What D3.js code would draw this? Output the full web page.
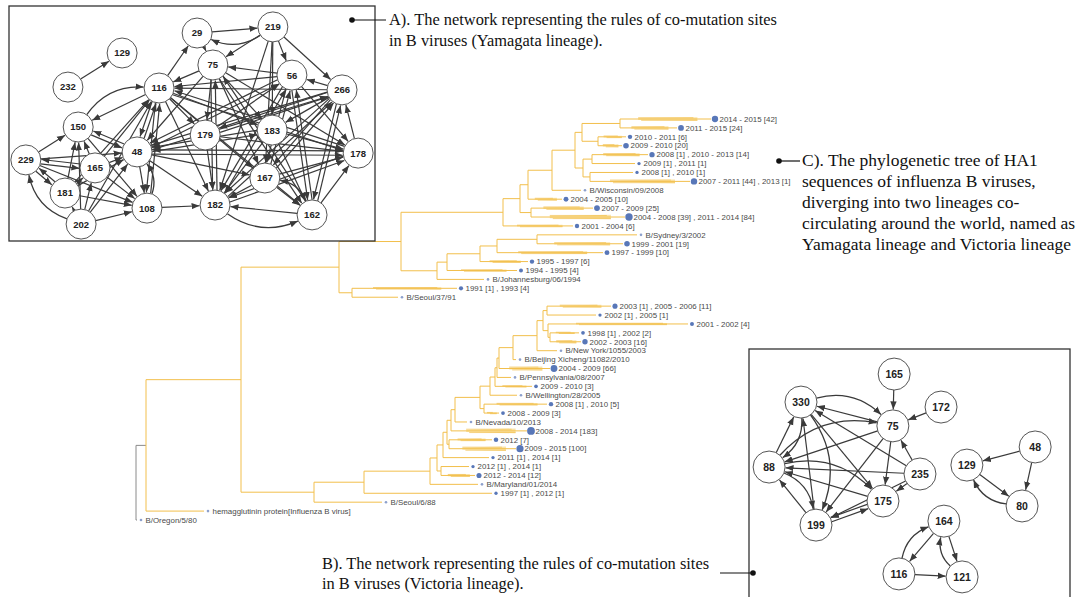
<!DOCTYPE html>
<html><head><meta charset="utf-8">
<script src="https://cdn.jsdelivr.net/npm/d3@7"></script>
<style>html,body{margin:0;padding:0;background:#fff;}svg{display:block}</style>
</head><body>
<svg id="c" width="1080" height="597"></svg>
<script>
// ---------------- DATA ----------------
// Phylogenetic tree: leaves in display order (top to bottom)
const leafLabels = [
 "2014 - 2015 [42]","2011 - 2015 [24]","2010 - 2011 [6]","2009 - 2010 [20]",
 "2008 [1] , 2010 - 2013 [14]","2009 [1] , 2011 [1]","2008 [1] , 2010 [1]",
 "2007 - 2011 [44] , 2013 [1]","B/Wisconsin/09/2008","2004 - 2005 [10]","2007 - 2009 [25]",
 "2004 - 2008 [39] , 2011 - 2014 [84]","2001 - 2004 [6]","B/Sydney/3/2002","1999 - 2001 [19]",
 "1997 - 1999 [10]","1995 - 1997 [6]","1994 - 1995 [4]","B/Johannesburg/06/1994",
 "1991 [1] , 1993 [4]","B/Seoul/37/91",
 "2003 [1] , 2005 - 2006 [11]","2002 [1] , 2005 [1]","2001 - 2002 [4]","1998 [1] , 2002 [2]",
 "2002 - 2003 [16]","B/New York/1055/2003","B/Beijing Xicheng/11082/2010","2004 - 2009 [66]",
 "B/Pennsylvania/08/2007","2009 - 2010 [3]","B/Wellington/28/2005","2008 [1] , 2010 [5]",
 "2008 - 2009 [3]","B/Nevada/10/2013","2008 - 2014 [183]","2012 [7]","2009 - 2015 [100]",
 "2011 [1] , 2014 [1]","2012 [1] , 2014 [1]","2012 - 2014 [12]","B/Maryland/01/2014",
 "1997 [1] , 2012 [1]","B/Seoul/6/88","hemagglutinin protein[Influenza B virus]","B/Oregon/5/80"
];
// [node, parent, branch length]
const treeLinks = [
 ["root","",0],["n1","root",0.010],["B/Oregon/5/80","root",0.001],
 ["hemagglutinin protein[Influenza B virus]","n1",0.058],["n2","n1",0.095],
 ["ny","n2",0.098],["nv","n2",0.073],
 ["B/Seoul/6/88","nv",0.068],["w","nv",0.050],["1997 [1] , 2012 [1]","w",0.128],
 ["va","w",0.066],["B/Maryland/01/2014","va",0.048],["vb","va",0.007],
 ["vy2","vb",0.004],["2012 [1] , 2014 [1]","vy2",0.028],["2012 - 2014 [12]","vy2",0.034],
 ["vc","vb",0.006],["2011 [1] , 2014 [1]","vc",0.046],["vd","vc",0.004],
 ["vf","vd",0.002],["2012 [7]","vf",0.043],["2009 - 2015 [100]","vf",0.067],
 ["ve","vd",0.004],["2008 - 2014 [183]","ve",0.076],["vg","ve",0.004],
 ["B/Nevada/10/2013","vg",0.012],["vh","vg",0.025],["vj","vh",0.004],
 ["2008 [1] , 2010 [5]","vj",0.063],["2008 - 2009 [3]","vj",0.015],["vi","vh",0.010],
 ["B/Wellington/28/2005","vi",0.027],["vk","vi",0.005],["2009 - 2010 [3]","vk",0.037],
 ["vl","vk",0.002],["B/Pennsylvania/08/2007","vl",0.014],["vm","vl",0.002],
 ["2004 - 2009 [66]","vm",0.051],["vn","vm",0.014],["B/Beijing Xicheng/11082/2010","vn",0.003],
 ["vo","vn",0.024],["B/New York/1055/2003","vo",0.020],["vp","vo",0.006],["vq","vp",0.004],
 ["2003 [1] , 2005 - 2006 [11]","vq",0.064],["2002 [1] , 2005 [1]","vq",0.049],
 ["vr","vp",0.005],["2001 - 2002 [4]","vr",0.140],["vs","vr",0.002],
 ["1998 [1] , 2002 [2]","vs",0.029],["2002 - 2003 [16]","vs",0.031],
 ["a2","ny",0.013],["1991 [1] , 1993 [4]","a2",0.105],["B/Seoul/37/91","a2",0.046],
 ["a1","ny",0.062],["b2","a1",0.036],["B/Johannesburg/06/1994","b2",0.047],
 ["c","b2",0.010],["1994 - 1995 [4]","c",0.070],["d","c",0.033],["1995 - 1997 [6]","d",0.048],
 ["e","d",0.017],["1997 - 1999 [10]","e",0.106],["f","e",0.040],
 ["B/Sydney/3/2002","f",0.100],["1999 - 2001 [19]","f",0.086],
 ["b1","a1",0.102],["2001 - 2004 [6]","b1",0.070],["p","b1",0.017],["r","p",0.011],
 ["2007 - 2009 [25]","r",0.062],["2004 - 2008 [39] , 2011 - 2014 [84]","r",0.094],
 ["q","p",0.008],["2004 - 2005 [10]","q",0.034],["m","q",0.024],
 ["B/Wisconsin/09/2008","m",0.029],["nn","m",0.023],["t1","nn",0.007],["u1","t1",0.038],
 ["2014 - 2015 [42]","u1",0.091],["2011 - 2015 [24]","u1",0.057],["u2","t1",0.016],
 ["2010 - 2011 [6]","u2",0.028],["2009 - 2010 [20]","u2",0.024],["t2","nn",0.008],
 ["v1","t2",0.009],["2008 [1] , 2010 - 2013 [14]","v1",0.056],["2009 [1] , 2011 [1]","v1",0.043],
 ["v2","t2",0.007],["2008 [1] , 2010 [1]","v2",0.043],["2007 - 2011 [44] , 2013 [1]","v2",0.100]
];

// Network A (Yamagata): [site, x, y] in layout units (0-100)
const nodesA = [["29",51.4,11.5],["219",72.1,8.9],["129",30.9,20.0],["75",55.7,25.1],
 ["56",77.3,29.4],["266",91.0,35.7],["232",16.1,34.5],["116",41.0,34.9],["150",18.9,51.5],
 ["179",53.6,54.9],["183",71.9,52.8],["48",35.0,62.1],["178",95.4,62.6],["229",4.6,65.5],
 ["165",23.5,68.9],["167",69.9,73.2],["181",15.3,79.6],["108",37.7,86.0],["182",56.3,84.7],
 ["162",82.8,88.9],["202",19.7,92.8]];
const edgesA = [
 ["232","129"],["29","219"],["219","75"],["29","75"],["116","29"],["219","56"],["219","266"],
 ["219","183"],["219","167"],["219","182"],["56","75"],["266","56"],["75","116"],["56","116"],
 ["266","116"],["116","150"],["48","150"],["229","150"],["229","165"],["229","48"],["229","108"],
 ["181","229"],["202","150"],["181","150"],["165","150"],["202","108"],["181","108"],["165","108"],
 ["150","108"],["202","48"],["181","48"],["165","48"],["202","116"],["181","116"],["165","116"],
 ["48","116"],["108","116"],["116","48"],["116","108"],["48","108"],["116","182"],["116","167"],
 ["116","162"],["116","183"],["116","178"],["116","179"],["75","182"],["75","167"],["75","162"],
 ["75","178"],["75","183"],["75","179"],["75","48"],["56","182"],["56","48"],["56","167"],
 ["56","162"],["56","178"],["266","48"],["266","182"],["266","167"],["266","162"],["266","179"],
 ["266","183"],["178","48"],["178","266"],["178","116"],["178","182"],["183","48"],["183","178"],
 ["183","162"],["183","182"],["179","182"],["179","56"],["179","266"],["179","178"],["167","182"],
 ["167","266"],["167","178"],["167","56"],["167","162"],["162","182"],["162","178"],["162","266"],
 ["162","56"],["162","75"],["182","266"],["182","178"],["182","56"],["182","75"],["48","182"],
 ["48","266"],["48","56"],["48","183"],["48","178"],["48","167"],["229","181"],["150","48"],
 ["108","182"],["165","229"],["202","181"],["181","165"],["202","165"]];
const arcsA = [["219","29",-1],["150","116",-1],["202","229",-1],["108","48",1],["182","162",1],["162","167",1]];

// Network B (Victoria)
const nodesB = [["165",45.5,10.1],["172",60.2,23.4],["330",16.3,21.4],["75",45.1,31.0],
 ["88",6.3,47.6],["235",53.6,50.4],["175",42.0,61.3],["199",21.0,71.0],["48",89.7,39.5],
 ["129",68.3,46.8],["80",85.6,63.3],["164",61.1,69.4],["116",47.0,90.7],["121",66.8,91.9]];
const edgesB = [["165","75"],["172","75"],["75","330"],["75","88"],["88","330"],["199","330"],
 ["330","175"],["75","199"],["75","175"],["235","75"],["235","88"],["235","175"],["175","199"],
 ["199","175"],["199","88"],["175","88"],["235","330"],["235","199"],["48","129"],["48","80"],
 ["129","80"],["164","116"],["164","121"],["116","121"]];
const arcsB = [["330","75",-1],["88","75",-1],["330","88",-1],["330","199",-1],["88","199",-1],
 ["88","175",-1],["80","129",-1],["116","164",-1],["121","164",-1]];

// Captions
const captionA = ["A). The network representing the rules of co-mutation sites","in B viruses (Yamagata lineage)."];
const captionB = ["B). The network representing the rules of co-mutation sites","in B viruses (Victoria lineage)."];
const captionC = ["C). The phylogenetic tree of HA1","sequences of influenza B viruses,","diverging into two lineages co-","circulating around the world, named as","Yamagata lineage and Victoria lineage"];

// ---------------- DRAWING ----------------
const svg = d3.select("#c");
const defs = svg.append("defs");
defs.append("marker").attr("id","arr").attr("viewBox","0 -5 10 10").attr("refX",10).attr("refY",0)
  .attr("markerWidth",8).attr("markerHeight",8).attr("markerUnits","userSpaceOnUse").attr("orient","auto")
  .append("path").attr("d","M0,-4L10,0L0,4Z").attr("fill","#3a3a3a");

// ---- tree ----
const TREE = "#f2bf4c";
const xT = d3.scaleLinear().domain([0,0.6]).range([136,736]);
const yT = d3.scalePoint().domain(leafLabels).range([119,520]);
const root = d3.stratify().id(d=>d[0]).parentId(d=>d[1]||null)(treeLinks);
root.eachBefore(n => { n.dist = (n.parent ? n.parent.dist : 0) + n.data[2]; });
root.eachAfter(n => {
  if (n.children) { const ys = n.children.map(c=>c.py); n.py = (d3.min(ys)+d3.max(ys))/2; n.y0=d3.min(ys); n.y1=d3.max(ys);} 
  else n.py = yT(n.id);
});
const countOf = s => { const m = s.match(/\[(\d+)\]/g); return m ? d3.sum(m, v=>+v.slice(1,-1)) : 1; };
const rDot = d3.scaleLog().domain([1,183]).range([1.3,3.9]).clamp(true);
const hBundle = d3.scaleLog().domain([3,183]).range([0.9,2.4]).clamp(true);
const gT = svg.append("g");
// bundles (collapsed sequence groups)
root.leaves().forEach(n => {
  const k = countOf(n.id); if (k < 3) return;
  const x0 = xT(n.parent.dist), x1 = xT(n.dist), h = hBundle(k);
  const xa = x0 + (x1-x0)*0.2, xb = x1 - (x1-x0)*0.15;
  gT.append("path").attr("d",`M${xa},${n.py-h*0.5}L${xb},${n.py-h}L${xb},${n.py+h}L${xa},${n.py+h*0.5}Z`)
    .attr("fill","#f8d985").attr("opacity",0.7);
  gT.append("line").attr("x1",xa).attr("x2",xb-4).attr("y1",n.py-h*0.7).attr("y2",n.py-h*0.7).attr("stroke",TREE).attr("stroke-width",0.7);
  gT.append("line").attr("x1",xa+3).attr("x2",xb).attr("y1",n.py+h*0.7).attr("y2",n.py+h*0.7).attr("stroke",TREE).attr("stroke-width",0.7);
});
root.descendants().forEach(n => {
  const col = (n.parent && n.parent.parent) ? TREE : "#8a8a8a";
  if (n.parent) gT.append("line").attr("x1",xT(n.parent.dist)).attr("x2",xT(n.dist)).attr("y1",n.py).attr("y2",n.py)
     .attr("stroke", col).attr("stroke-width",1);
  if (n.children) gT.append("line").attr("x1",xT(n.dist)).attr("x2",xT(n.dist)).attr("y1",n.y0).attr("y2",n.y1)
     .attr("stroke", n.parent ? TREE : "#8a8a8a").attr("stroke-width",1);
});
root.leaves().forEach(n => {
  const x = xT(n.dist), k = countOf(n.id);
  gT.append("circle").attr("cx",x+4).attr("cy",n.py).attr("r",rDot(k)).attr("fill", k>1?"#5877b8":"#8da0cc");
  gT.append("text").attr("x",x+8.5).attr("y",n.py).attr("dy","0.35em").text(n.id)
    .attr("font-family","Liberation Sans, Arial, sans-serif").attr("font-size",7.9).attr("fill","#4a4a4a");
});

// ---- networks ----
function drawNet(g, nodes, edges, arcs, xs, ys, r, fs) {
  const pos = new Map(nodes.map(d => [d[0], [xs(d[1]), ys(d[2])]]));
  const keys = new Set(edges.map(e => e[0]+">"+e[1]));
  edges.forEach(([s,t]) => {
    const [x1,y1]=pos.get(s), [x2,y2]=pos.get(t);
    const dx=x2-x1, dy=y2-y1, L=Math.hypot(dx,dy), ux=dx/L, uy=dy/L;
    const off = keys.has(t+">"+s) ? 2.2 : 0, px=-uy*off, py=ux*off;
    g.append("line").attr("x1",x1+ux*r+px).attr("y1",y1+uy*r+py).attr("x2",x2-ux*(r+0.5)+px).attr("y2",y2-uy*(r+0.5)+py)
      .attr("stroke","#3a3a3a").attr("stroke-width",1.2).attr("marker-end","url(#arr)");
  });
  arcs.forEach(([s,t,side]) => {
    const [x1,y1]=pos.get(s), [x2,y2]=pos.get(t);
    const dx=x2-x1, dy=y2-y1, L=Math.hypot(dx,dy);
    const cx=(x1+x2)/2 - dy/L*L*0.28*side, cy=(y1+y2)/2 + dx/L*L*0.28*side;
    const a=Math.hypot(cx-x1,cy-y1), b=Math.hypot(x2-cx,y2-cy);
    const sx=x1+(cx-x1)/a*r, sy=y1+(cy-y1)/a*r, ex=x2-(x2-cx)/b*(r+0.5), ey=y2-(y2-cy)/b*(r+0.5);
    g.append("path").attr("d",`M${sx},${sy}Q${cx},${cy} ${ex},${ey}`).attr("fill","none")
      .attr("stroke","#3a3a3a").attr("stroke-width",1.3).attr("marker-end","url(#arr)");
  });
  nodes.forEach(d => {
    const [x,y]=pos.get(d[0]);
    g.append("circle").attr("cx",x).attr("cy",y).attr("r",r).attr("fill","#fff").attr("stroke","#555").attr("stroke-width",1);
    g.append("text").attr("x",x).attr("y",y).attr("dy","0.36em").attr("text-anchor","middle").text(d[0])
      .attr("font-family","Liberation Sans, Arial, sans-serif").attr("font-weight","bold").attr("font-size",fs).attr("fill","#222");
  });
}
// Panel A
svg.append("rect").attr("x",9).attr("y",6).attr("width",366).attr("height",235).attr("fill","#fff").attr("stroke","#333").attr("stroke-width",1.3);
drawNet(svg.append("g"), nodesA, edgesA, arcsA, d3.scaleLinear().domain([0,100]).range([9,375]), d3.scaleLinear().domain([0,100]).range([6,241]), 15, 9.5);
// Panel B
svg.append("rect").attr("x",749).attr("y",349).attr("width",321).attr("height",270).attr("fill","#fff").attr("stroke","#333").attr("stroke-width",1.3);
drawNet(svg.append("g"), nodesB, edgesB, arcsB, d3.scaleLinear().domain([0,100]).range([749,1068]), d3.scaleLinear().domain([0,100]).range([349,597]), 16, 10.5);

// ---- captions ----
function caption(lines, x, y0, lh, fs) {
  const t = svg.append("text").attr("font-family","Liberation Serif, Times New Roman, serif").attr("font-size",fs).attr("fill","#111");
  lines.forEach((s,i) => t.append("tspan").attr("x",x).attr("y",y0+i*lh).text(s));
}
function connector(x1, x2, y) {
  svg.append("line").attr("x1",x1).attr("x2",x2).attr("y1",y).attr("y2",y).attr("stroke","#111").attr("stroke-width",1.2);
  svg.append("circle").attr("cx",x1).attr("cy",y).attr("r",2.8).attr("fill","#111");
}
connector(352, 386, 20);
caption(captionA, 389, 25, 21, 16.4);
connector(779, 800, 161);
caption(captionC, 802, 166, 21, 17.5);
svg.append("line").attr("x1",720).attr("x2",753).attr("y1",573).attr("y2",573).attr("stroke","#111").attr("stroke-width",1.2);
svg.append("circle").attr("cx",753).attr("cy",573).attr("r",2.8).attr("fill","#111");
caption(captionB, 322, 569, 20, 16.4);
</script>
</body></html>
